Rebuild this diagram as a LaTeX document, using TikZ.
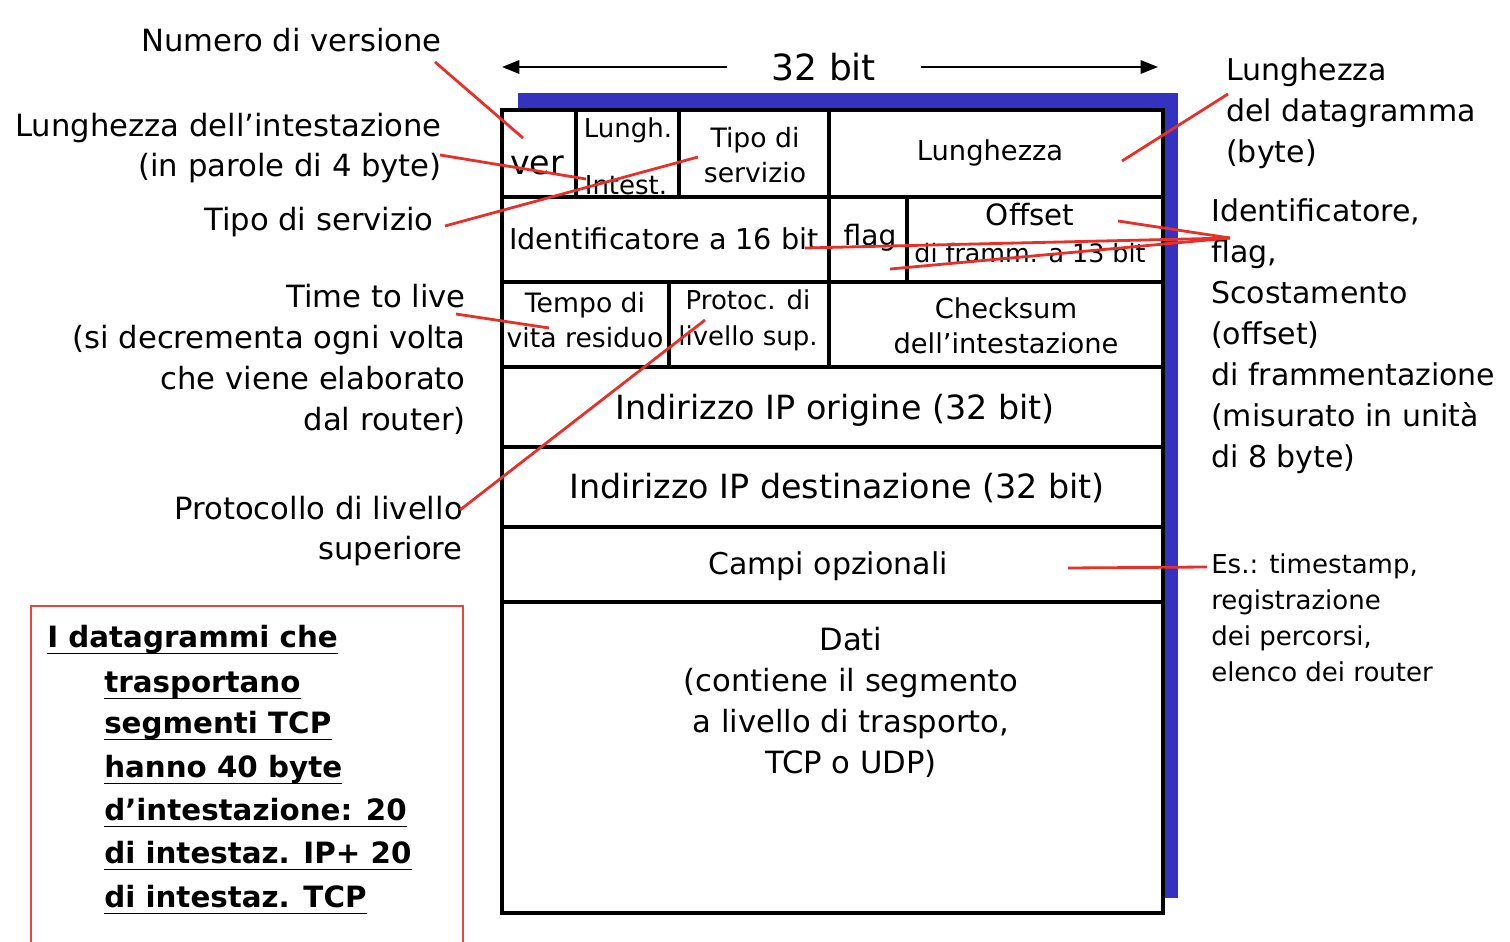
\documentclass[tikz,border=0pt]{standalone}
\usepackage{fontspec}
\setmainfont{DejaVu Sans}
\usetikzlibrary{arrows.meta}
\definecolor{hdrblue}{RGB}{51,51,192}
\definecolor{leadred}{RGB}{232,48,40}
\definecolor{boxred}{RGB}{235,70,60}
\begin{document}
\begin{tikzpicture}[x=0.75pt,y=-0.75pt,
  tbl/.style={line width=2.5pt,draw=black},
  lead/.style={line width=2.1pt,draw=leadred},
  dimline/.style={line width=1.6pt,-{Triangle[length=13pt,width=10pt]}},
  lbl/.style={inner sep=0pt,font=\fontsize{23}{30}\selectfont},
  rlbl/.style={lbl,anchor=east,align=right},
  llbl/.style={lbl,anchor=west,align=left,font=\fontsize{22.5}{30.75}\selectfont},
  cell/.style={inner sep=0pt,align=center,font=\fontsize{20}{26}\selectfont},
  bigcell/.style={inner sep=0pt,align=center,font=\fontsize{25}{30.75}\selectfont},
  boxtext/.style={inner sep=0pt,anchor=base west,font=\fontsize{22}{32}\bfseries\selectfont},
  uline/.style={line width=1.2pt,draw=black}
]
\useasboundingbox (0,0) rectangle (1510,942);

% blue shadow and table
\fill[hdrblue] (518,93) rectangle (1178,898);
\filldraw[fill=white,tbl] (502,110) rectangle (1163,913);

% 32 bit dimension
\node[inner sep=0pt,minimum width=145pt,font=\fontsize{27}{32}\selectfont] (bits) at (824,67) {32 bit};
\coordinate (al) at (502,67);
\coordinate (ar) at (1158,67);
\draw[dimline] (bits.west) -- (al);
\draw[dimline] (bits.east) -- (ar);

% cell texts
\node[cell,font=\fontsize{25}{30}\selectfont] (ver) at (537,165) {ver};
\node[cell,font=\fontsize{19.5}{26}\selectfont] (lungh) at (628,130) {Lungh.};
\node[cell,font=\fontsize{19.5}{26}\selectfont] (intest) at (626,185) {Intest.};
\node[cell] (tos) at (755,155) {Tipo di\\servizio};
\node[cell,font=\fontsize{20.5}{26}\selectfont] (len) at (990,153) {Lunghezza};
\node[cell,font=\fontsize{21.5}{26}\selectfont] (ident) at (664,239) {Identificatore a 16 bit};
\node[cell,font=\fontsize{21}{26}\selectfont] (flag) at (870,238) {flag};
\node[cell,font=\fontsize{19}{28}\selectfont] (off) at (1030,233) {{\fontsize{22}{28}\selectfont Offset}\\di framm. a 13 bit};
\node[cell] (ttl) at (585,320) {Tempo di\\vita residuo};
\node[cell,font=\fontsize{19.5}{27}\selectfont] (proto) at (748,320) {Protoc. di\\livello sup.};
\node[cell,font=\fontsize{20.5}{26}\selectfont] (chk) at (1006,326) {Checksum\\dell’intestazione};
\node[bigcell] (src) at (835,410) {Indirizzo IP origine (32 bit)};
\node[bigcell] (dst) at (837,488) {Indirizzo IP destinazione (32 bit)};
\node[bigcell,font=\fontsize{22.5}{30}\selectfont] (opt) at (828,566) {Campi opzionali};
\node[bigcell,font=\fontsize{23}{30.75}\selectfont] (data) at (851,702) {Dati\\(contiene il segmento\\a livello di trasporto,\\TCP o UDP)};

% table lines
\draw[tbl] (502,197) -- (1163,197);
\draw[tbl] (502,282) -- (1163,282);
\draw[tbl] (502,367) -- (1163,367);
\draw[tbl] (502,447) -- (1163,447);
\draw[tbl] (502,527) -- (1163,527);
\draw[tbl] (502,602) -- (1163,602);
\draw[tbl] (576,110) -- (576,197);
\draw[tbl] (679,110) -- (679,197);
\draw[tbl] (829,110) -- (829,367);
\draw[tbl] (907,197) -- (907,282);
\draw[tbl] (669,282) -- (669,367);

% left labels
\node[rlbl] (numver) at (442,40) {Numero di versione};
\node[rlbl] (hlen) at (442,148) {Lunghezza dell’intestazione\\(in parole di 4 byte)};
\node[rlbl] (tipo) at (434,222) {Tipo di servizio};
\node[rlbl,font=\fontsize{23}{30.75}\selectfont] (ttllbl) at (466,359) {Time to live\\(si decrementa ogni volta\\che viene elaborato\\dal router)};
\node[rlbl] (protolbl) at (463,531) {Protocollo di livello\\superiore};

% right labels
\node[llbl] (dglen) at (1226,113) {Lunghezza\\del datagramma\\(byte)};
\node[llbl] (frag) at (1211,336) {Identificatore,\\flag,\\Scostamento\\(offset)\\di frammentazione\\(misurato in unità\\di 8 byte)};
\node[lbl,anchor=west,align=left,font=\fontsize{19.5}{27}\selectfont] (es) at (1211,618) {Es.: timestamp,\\registrazione\\dei percorsi,\\elenco dei router};

% red leader lines
\coordinate (p1a) at (435,62);   \coordinate (p1b) at (523,138);
\coordinate (p2a) at (440,155);  \coordinate (p2b) at (586,179);
\coordinate (p3a) at (445,226);  \coordinate (p3b) at (698,157);
\coordinate (p4a) at (1228,94);  \coordinate (p4b) at (1122,161);
\coordinate (p5)  at (1230,238);
\coordinate (p5a) at (1118,221); \coordinate (p5b) at (805,248); \coordinate (p5c) at (890,269);
\coordinate (p6a) at (456,314);  \coordinate (p6b) at (549,328);
\coordinate (p7a) at (460,510);  \coordinate (p7b) at (705,320);
\coordinate (p8a) at (1207,567); \coordinate (p8b) at (1068,568);
\draw[lead] (p1a) -- (p1b);
\draw[lead] (p2a) -- (p2b);
\draw[lead] (p3a) -- (p3b);
\draw[lead] (p4a) -- (p4b);
\draw[lead] (p5) -- (p5a);
\draw[lead] (p5) -- (p5b);
\draw[lead] (p5) -- (p5c);
\draw[lead] (p6a) -- (p6b);
\draw[lead] (p7a) -- (p7b);
\draw[lead] (p8a) -- (p8b);

% note box
\draw[boxred,line width=1pt] (31,606) rectangle (463,960);
\node[boxtext] (b1) at (47,647) {I datagrammi che};
\node[boxtext] (b2) at (104,692) {trasportano};
\node[boxtext] (b3) at (104,733) {segmenti TCP};
\node[boxtext] (b4) at (104,777) {hanno 40 byte};
\node[boxtext] (b5) at (104,820) {d’intestazione: 20};
\node[boxtext] (b6) at (104,863) {di intestaz. IP+ 20};
\node[boxtext] (b7) at (104,907) {di intestaz. TCP};
\foreach \b in {b1,b2,b3,b4,b5,b6,b7}
  \draw[uline] ([yshift=-5pt]\b.base west) -- ([yshift=-5pt]\b.base east);
\end{tikzpicture}
\end{document}
